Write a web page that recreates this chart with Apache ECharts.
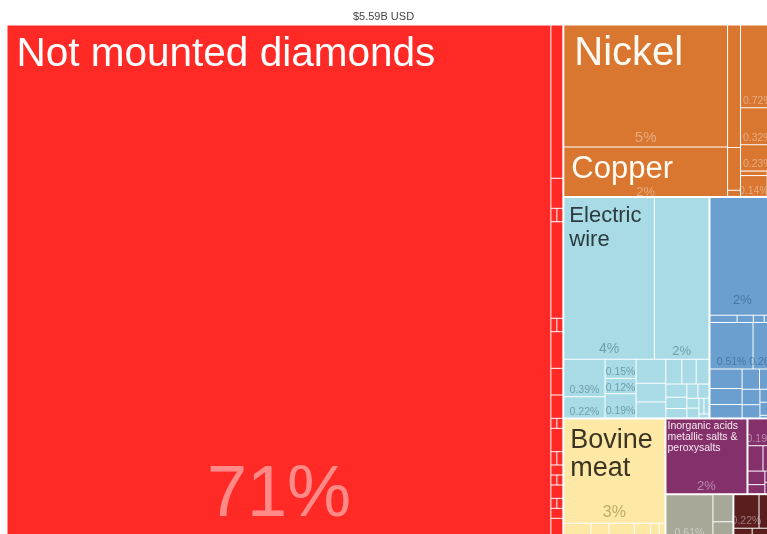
<!DOCTYPE html>
<html><head><meta charset="utf-8">
<script src="https://cdn.jsdelivr.net/npm/echarts@6/dist/echarts.min.js"></script>
<style>html,body{margin:0;padding:0;background:#fff}#c{width:767px;height:534px}</style>
</head><body><div id="c"></div>
<script>
const totalLabel = '$5.59B USD';
// values: hundredths of a percent of total exports
const preciousNames = ['Not mounted diamonds','Gold','Unsorted diamonds','Pearls','Precious stones','Silver','Platinum','Jewellery','Industrial diamonds','Synthetic stones','Gold coin','Silverware','Goldsmith wares','Imitation jewellery','Precious metal ores','Precious metal waste','Palladium','Rhodium','Gold powder','Cultured pearls','Coin','Rolled gold','Silver powder','Diamond dust'];
const preciousValues = [7085, 46, 9, 2, 2, 29, 2, 2, 11, 8, 7, 1.5, 1.5, 7, 2, 2, 3, 1.5, 1.5, 4, 1.5, 1.5, 3, 8];

const metalMainNames = ['Nickel','Copper','Nickel waste','Copper waste','Refined copper'];
const metalMainValues = [504, 204, 40, 14, 2];
const metalOtherNames = ['Iron structures','Aluminium','Iron pipes','Iron wire','Iron bars','Metal containers'];
const metalOtherValues = [72, 32, 23, 3, 14, 5];

const machineNames = ['Electric wire','Electric transformers','Electric switches','Pumps','Telephones','Computers','Engine parts','Valves','Electric motors','Lifting machinery','Air conditioners','Electric batteries','Printed circuits','Generators','Heating machinery','Refrigerators','Measuring machines','Filters','Electric lamps','Integrated circuits','Sound recorders','Office machine parts','Fans'];
const machineValues = [370, 223, 39, 22, 15, 12, 19, 18, 14, 12, 10, 9, 8, 7, 6, 5, 4, 4, 3, 3, 2, 2, 1];

const transportNames = ['Motor vehicles','Vehicle bodies','Trailers','Motorcycles','Bicycles','Tractors','Trucks','Vehicle parts','Buses','Special vehicles','Rubber tyres','Aircraft parts','Railway cars','Boats','Vehicle engines','Vehicle seats','Tank wagons','Wheelchairs','Baby carriages'];
const transportValues = [195, 5, 3, 2, 1, 1, 51, 26, 16, 13, 11, 9, 8, 7, 6, 5, 3, 2, 1];

const animalNames = ['Bovine meat','Bovine hides','Live cattle','Edible offal','Milk','Goat meat','Sheep skins','Butter','Raw hides','Ostrich eggs','Honey'];
const animalValues = [268, 15, 10, 8, 6, 5, 4, 3, 2, 2, 1];

const inorganicName = 'Inorganic acids metallic salts & peroxysalts';
const inorganicValue = 155;
const chemicalOtherNames = ['Soaps','Paints','Medicaments','Fertilizers','Explosives','Perfumes','Insecticides','Glues'];
const chemicalOtherValues = [19, 10, 8, 6, 4, 3, 2, 1];

const stoneNames = ['Articles of stone','Glass bottles','Cement','Ceramic tiles'];
const stoneValues = [61, 14, 8, 4];
const mineralNames = ['Soda ash','Salt','Coal','Petroleum oils','Sand','Lime'];
const mineralValues = [22, 14, 8, 5, 3, 2];

// ---------- styles ----------
const FONT = '"Liberation Sans", Arial, Helvetica, sans-serif';
const secColor = {precious:'#ff2a26', metals:'#d9762f', machines:'#a8dbe6', transport:'#6a9fcf', animal:'#fde8a6', chemical:'#84306a', stone:'#a8a898', mineral:'#5a1e1f'};
const pctColor = {precious:'rgba(255,255,255,0.45)', metals:'rgba(255,255,255,0.38)', machines:'rgba(40,85,100,0.45)', transport:'rgba(25,55,100,0.4)', animal:'rgba(110,90,30,0.45)', chemical:'rgba(255,255,255,0.42)', stone:'rgba(255,255,255,0.4)', mineral:'rgba(255,255,255,0.4)'};
const nameStyle = {
  'Not mounted diamonds': {text:'Not mounted diamonds', size:40.5, lh:44, color:'#ffffff', pad:[7,0,0,9]},
  'Nickel': {text:'Nickel', size:40, lh:44, color:'#fffaf2', pad:[6,0,0,10]},
  'Copper': {text:'Copper', size:31, lh:34, color:'#fffaf2', pad:[5,0,0,7]},
  'Electric wire': {text:'Electric\nwire', size:22, lh:24, color:'#2c3b40', pad:[6,0,0,5]},
  'Bovine meat': {text:'Bovine\nmeat', size:27, lh:28, color:'#3b3424', pad:[7,0,0,6]},
  'Inorganic acids metallic salts & peroxysalts': {text:'Inorganic acids\nmetallic salts &\nperoxysalts', size:10.5, lh:11, color:'#f6e9f1', pad:[1,0,0,1]}
};
const pctStyle = {
  'Not mounted diamonds': {size:72, pad:12},
  'Nickel': {size:15, pad:1},
  'Copper': {size:13, pad:-3},
  'Electric wire': {size:14, pad:3},
  'Electric transformers': {size:13, pad:1},
  'Bovine meat': {size:16, pad:2},
  'Motor vehicles': {size:13, pad:8},
  'Iron structures': {size:10.5, pad:1}, 'Aluminium': {size:10.5, pad:1}, 'Iron pipes': {size:10.5, pad:1}, 'Iron bars': {size:10.5, pad:0},
  'Electric switches': {size:10.5, pad:1}, 'Pumps': {size:10.5, pad:0}, 'Telephones': {size:10.5, pad:1}, 'Computers': {size:10.5, pad:0}, 'Engine parts': {size:10.5, pad:1},
  'Trucks': {size:10.5, pad:1}, 'Vehicle parts': {size:10.5, pad:1},
  'Soaps': {size:10.5, pad:1}, 'Articles of stone': {size:10.5, pad:6}, 'Soda ash': {size:10.5, pad:1}
};
pctStyle[inorganicName] = {size:13, pad:0};

const allValues = [].concat(preciousValues, metalMainValues, metalOtherValues, machineValues, transportValues, animalValues, [inorganicValue], chemicalOtherValues, stoneValues, mineralValues);
const TOTAL = allValues.reduce((a, b) => a + b, 0);
function pctText(v) {
  const p = v / TOTAL * 100;
  return p >= 1 ? Math.round(p) + '%' : p.toFixed(2) + '%';
}

function leaf(name, value, sec, mode) {
  const node = {name: name, value: value};
  if (mode === 'name') {
    node.itemStyle = {color: secColor[sec], borderColor: '#fff', borderWidth: 0.5};
    const s = nameStyle[name];
    node.label = s ? {show: true, formatter: s.text, fontSize: s.size, lineHeight: s.lh, color: s.color, padding: s.pad} : {show: false};
  } else {
    node.itemStyle = {color: 'rgba(0,0,0,0)', borderColor: 'rgba(0,0,0,0)', borderWidth: 0.5};
    const s = pctStyle[name];
    node.label = s ? {show: true, formatter: pctText(value), fontSize: s.size, lineHeight: s.size, color: pctColor[sec], padding: [0, 0, s.pad, 0]} : {show: false};
  }
  return node;
}
function group(name, children, sec, mode) {
  return {name: name, children: children,
    itemStyle: {color: mode === 'name' ? secColor[sec] : 'rgba(0,0,0,0)', borderColor: mode === 'name' ? '#fff' : 'rgba(0,0,0,0)', borderWidth: 0, gapWidth: 0}};
}
function leaves(names, values, sec, mode) {
  return names.map((n, i) => leaf(n, values[i], sec, mode));
}
function makeTree(mode) {
  return [
    group('Precious stones and metals', leaves(preciousNames, preciousValues, 'precious', mode), 'precious', mode),
    group('Metals', [
      group('Nickel and copper', leaves(metalMainNames, metalMainValues, 'metals', mode), 'metals', mode),
      group('Other metals', leaves(metalOtherNames, metalOtherValues, 'metals', mode), 'metals', mode)
    ], 'metals', mode),
    group('Machinery', leaves(machineNames, machineValues, 'machines', mode), 'machines', mode),
    group('Transport', leaves(transportNames, transportValues, 'transport', mode), 'transport', mode),
    group('Animal products', leaves(animalNames, animalValues, 'animal', mode), 'animal', mode),
    leaf(inorganicName, inorganicValue, 'chemical', mode),
    group('Other chemicals', leaves(chemicalOtherNames, chemicalOtherValues, 'chemical', mode), 'chemical', mode),
    group('Stone and glass', leaves(stoneNames, stoneValues, 'stone', mode), 'stone', mode),
    group('Mineral products', leaves(mineralNames, mineralValues, 'mineral', mode), 'mineral', mode)
  ];
}

const common = {
  type: 'treemap', left: 7, top: 25, width: 768, height: 520,
  sort: false, squareRatio: 1.58, roam: false, nodeClick: false,
  breadcrumb: {show: false}, animation: false, visibleMin: 0, silent: true,
  upperLabel: {show: false}, emphasis: {disabled: true}
};

const chart = echarts.init(document.getElementById('c'), null, {renderer: 'canvas'});
chart.setOption({
  animation: false,
  textStyle: {fontFamily: FONT},
  title: {text: totalLabel, left: 'center', top: 6, textStyle: {fontSize: 11, fontWeight: 'normal', color: '#444', fontFamily: FONT}},
  series: [
    Object.assign({}, common, {
      name: 'names', z: 2,
      itemStyle: {borderColor: '#fff', borderWidth: 0, gapWidth: 1},
      label: {show: true, position: 'insideTopLeft', fontFamily: FONT, overflow: 'truncate', ellipsis: '', textBorderWidth: 0, distance: 0},
      data: makeTree('name')
    }),
    Object.assign({}, common, {
      name: 'shares', z: 3,
      itemStyle: {color: 'rgba(0,0,0,0)', borderColor: 'rgba(0,0,0,0)', borderWidth: 0, gapWidth: 1},
      label: {show: true, position: 'insideBottom', fontFamily: FONT, overflow: 'none', lineOverflow: 'none', textBorderWidth: 0, distance: 0},
      data: makeTree('pct')
    })
  ]
});
</script>
</body></html>
